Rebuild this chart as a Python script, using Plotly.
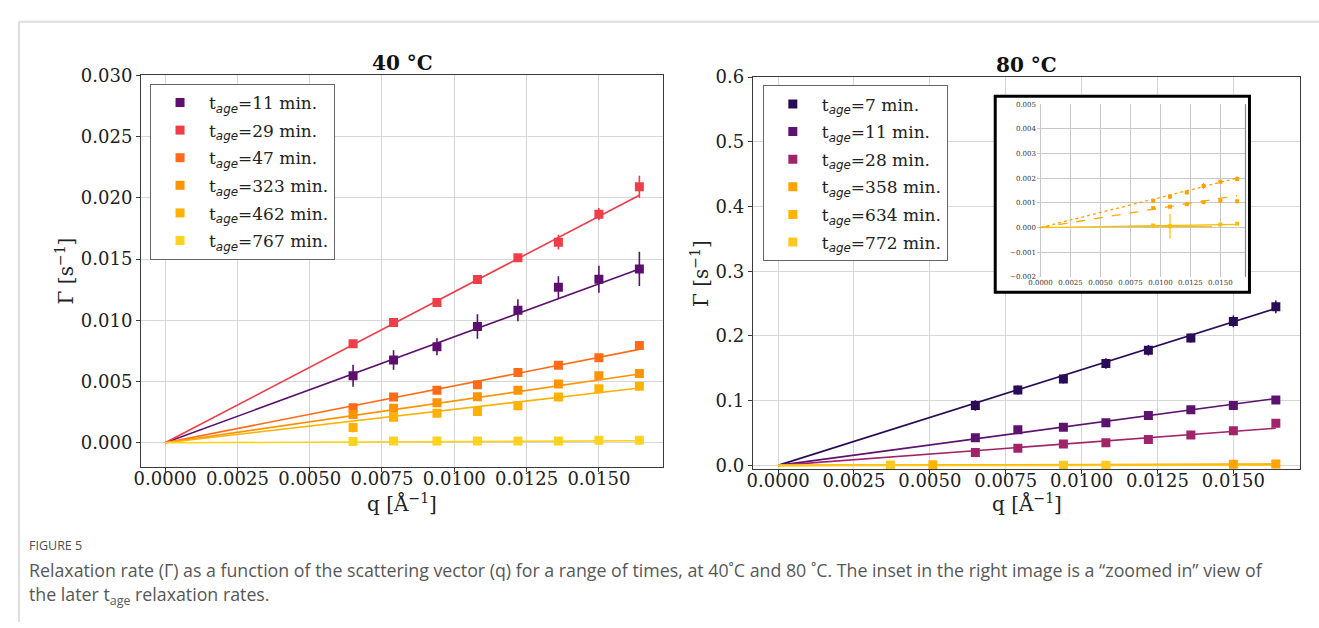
import plotly.graph_objects as go

W, H = 1319, 628
def px(x):
    return x / W
def py(y):
    return 1 - y / H

SERIF = "DejaVu Serif"

# ---------------- data ----------------
q = [0.0065, 0.0079, 0.0094, 0.0108, 0.0122, 0.0136, 0.0150, 0.0164]

# 40 C panel
t40 = [11, 29, 47, 323, 462, 767]
c40 = ["#5c0f6e", "#f03e48", "#ff6b17", "#ff9400", "#ffb100", "#ffd21f"]
g40 = [
    [0.00547, 0.00676, 0.00784, 0.00950, 0.01082, 0.01269, 0.01335, 0.01419],
    [0.00808, 0.00982, 0.01145, 0.01332, 0.01511, 0.01637, 0.01866, 0.02090],
    [0.00287, 0.00374, 0.00429, 0.00474, 0.00574, 0.00632, 0.00695, 0.00795],
    [0.00231, 0.00281, 0.00326, 0.00376, 0.00429, 0.00479, 0.00547, 0.00566],
    [0.00124, 0.00208, 0.00242, 0.00255, 0.00302, 0.00374, 0.00442, 0.00461],
    [0.00010, 0.00015, 0.00015, 0.00015, 0.00015, 0.00015, 0.00020, 0.00020],
]
e40 = [
    [0.0009, 0.0008, 0.0007, 0.0010, 0.0009, 0.0009, 0.0011, 0.0014],
    [0.0002, 0.0002, 0.0002, 0.0002, 0.0002, 0.0006, 0.0005, 0.0009],
    [0.0002, 0.0002, 0.0002, 0.0002, 0.0002, 0.0002, 0.0002, 0.0003],
    [0.0002, 0.0002, 0.0002, 0.0002, 0.0002, 0.0002, 0.0002, 0.0002],
    [0.0004, 0.0002, 0.0002, 0.0003, 0.0003, 0.0003, 0.0003, 0.0003],
    [0.0001, 0.0001, 0.0001, 0.0001, 0.0001, 0.0001, 0.0001, 0.0001],
]
slope40 = [0.865, 1.232, 0.465, 0.342, 0.273, 0.010]

# 80 C panel
t80 = [7, 11, 28, 358, 634, 772]
c80 = ["#2a0b57", "#5c126e", "#a1246b", "#ffa400", "#ffb500", "#ffc81f"]
q80 = [q, q, q, [0.0150, 0.0164], [0.0051], [0.0037, 0.0094, 0.0108]]
g80 = [
    [0.0925, 0.1165, 0.1335, 0.1575, 0.1780, 0.1970, 0.2225, 0.2450],
    [0.0425, 0.0550, 0.0590, 0.0660, 0.0770, 0.0860, 0.0925, 0.1010],
    [0.0200, 0.0265, 0.0330, 0.0350, 0.0400, 0.0470, 0.0535, 0.0650],
    [0.0019, 0.0020],
    [0.0010],
    [0.0005, 0.0001, 0.0001],
]
e80 = [
    [0.008, 0.007, 0.007, 0.008, 0.008, 0.007, 0.009, 0.010],
    [0.003, 0.003, 0.003, 0.003, 0.003, 0.003, 0.003, 0.003],
    [0.003, 0.003, 0.003, 0.003, 0.003, 0.003, 0.003, 0.003],
    [0.0001, 0.0001],
    [0.0001],
    [0.0001, 0.0001, 0.0005],
]
slope80 = [14.8, 6.3, 3.5, 0.122, 0.079, 0.008]

# inset (late ageing times at 80 C)
qi = [0.0094, 0.0108, 0.0122, 0.0136, 0.0150, 0.0164]
qi772 = [0.0094, 0.0108, 0.0150, 0.0164]
gi358 = [0.00109, 0.00126, 0.00142, 0.00168, 0.00185, 0.00197]
ei358 = [0.00004, 0.00010, 0.00005, 0.00012, 0.00005, 0.00010]
gi634 = [0.00079, 0.00084, 0.00094, 0.00102, 0.00109, 0.00106]
ei634 = [0.00003, 0.00005, 0.00004, 0.00004, 0.00004, 0.00008]
gi772 = [0.00008, 0.00005, 0.00012, 0.00015]
ei772 = [0.00003, 0.00050, 0.00003, 0.00003]
exi772 = [0.0, 0.0035, 0.0, 0.0]
slope_in = [0.122, 0.079, 0.008]
dash_in = ["dot", "dash", "solid"]
col_in = ["#ffa000", "#ffa600", "#ffbf00"]

q_end = 0.0164
xticks = [0.0, 0.0025, 0.005, 0.0075, 0.01, 0.0125, 0.015]

def lab(t):
    return ("t<sub><span style='font-family:DejaVu Sans;font-style:italic'>age</span></sub>"
            f"={t} min.")

fig = go.Figure()

# ---- 40 C ----
for i in range(len(t40)):
    fig.add_trace(go.Scatter(x=[0, q_end], y=[0, slope40[i] * q_end], mode="lines",
                             line=dict(color=c40[i], width=1.6), showlegend=False,
                             hoverinfo="skip", xaxis="x", yaxis="y"))
for i in range(len(t40)):
    fig.add_trace(go.Scatter(x=q, y=g40[i], mode="markers", name=lab(t40[i]),
                             legendgroup=f"a{i}",
                             marker=dict(symbol="square", size=9, color=c40[i]),
                             error_y=dict(type="data", array=e40[i], color=c40[i],
                                          thickness=1.6, width=0),
                             xaxis="x", yaxis="y", legend="legend"))

# ---- 80 C ----
for i in range(len(t80)):
    fig.add_trace(go.Scatter(x=[0, q_end], y=[0, slope80[i] * q_end], mode="lines",
                             line=dict(color=c80[i], width=1.6), showlegend=False,
                             hoverinfo="skip", xaxis="x2", yaxis="y2"))
for i in range(len(t80)):
    fig.add_trace(go.Scatter(x=q80[i], y=g80[i], mode="markers", name=lab(t80[i]),
                             legendgroup=f"b{i}",
                             marker=dict(symbol="square", size=9, color=c80[i]),
                             error_y=dict(type="data", array=e80[i], color=c80[i],
                                          thickness=1.6, width=0),
                             xaxis="x2", yaxis="y2", legend="legend2"))

# ---- inset cover (white box) ----
fig.add_trace(go.Scatter(x=[0], y=[0], mode="markers", marker=dict(opacity=0),
                         showlegend=False, hoverinfo="skip", xaxis="x3", yaxis="y3"))

# ---- inset ----
gi = [gi358, gi634, gi772]
ei = [ei358, ei634, ei772]
qis = [qi, qi, qi772]
exi = [None, None, exi772]
for k in range(3):
    fig.add_trace(go.Scatter(x=[0, q_end], y=[0, slope_in[k] * q_end], mode="lines",
                             line=dict(color=col_in[k], width=1.3, dash=dash_in[k]),
                             showlegend=False, hoverinfo="skip", xaxis="x4", yaxis="y4"))
    tr = go.Scatter(x=qis[k], y=gi[k], mode="markers",
                    marker=dict(symbol="square", size=4, color=col_in[k]),
                    error_y=dict(type="data", array=ei[k], color=col_in[k],
                                 thickness=1.2, width=0),
                    showlegend=False, xaxis="x4", yaxis="y4")
    if exi[k] is not None:
        tr.error_x = dict(type="data", array=exi[k], color=col_in[k], thickness=1.2, width=0)
    fig.add_trace(tr)

GRID = "#d6d6d6"
SPINE = "#3a3a3a"
tickfont = dict(family=SERIF, size=18, color="#222")

def xax(dom, anchor):
    return dict(domain=dom, anchor=anchor, range=[-0.00083, 0.0172],
                tickvals=xticks, ticktext=[f"{v:.4f}" for v in xticks],
                showgrid=True, gridcolor=GRID, gridwidth=1.2, zeroline=False,
                showline=True, linecolor=SPINE, linewidth=1.2, mirror=True,
                ticks="outside", ticklen=4, tickcolor=SPINE, tickfont=tickfont,
                ticklabelstandoff=-9)

def yax(dom, anchor, rng, dtick, fmt):
    return dict(domain=dom, anchor=anchor, range=rng, tick0=0, dtick=dtick,
                tickformat=fmt, showgrid=True, gridcolor=GRID, gridwidth=1.2,
                zeroline=False, showline=True, linecolor=SPINE, linewidth=1.2,
                mirror=True, ticks="outside", ticklen=4, tickcolor=SPINE,
                tickfont=tickfont, ticklabelstandoff=0)

legend_common = dict(bgcolor="white", bordercolor="#666", borderwidth=1,
                     font=dict(family=SERIF, size=17, color="#222"),
                     xanchor="left", yanchor="top", itemwidth=48,
                     tracegroupgap=2.5)

inset_font = dict(family=SERIF, size=7, color="#333")

fig.update_layout(
    width=W, height=H, margin=dict(l=0, r=0, t=0, b=0),
    paper_bgcolor="white", plot_bgcolor="white", showlegend=True,
    xaxis=xax([px(133), px(658)], "y"),
    yaxis=yax([py(469), py(66)], "x", [-0.002, 0.030], 0.005, ".3f"),
    xaxis2=xax([px(749), px(1300)], "y2"),
    yaxis2=yax([py(471), py(68)], "x2", [-0.006, 0.6], 0.1, ".1f"),
    xaxis3=dict(domain=[px(993), px(1249)], anchor="y3", range=[0, 1], visible=True,
                showgrid=False, zeroline=False, showline=False, showticklabels=False,
                ticks=""),
    yaxis3=dict(domain=[py(289), py(87.5)], anchor="x3", range=[0, 1], visible=True,
                showgrid=False, zeroline=False, showline=False, showticklabels=False,
                ticks=""),
    xaxis4=dict(domain=[px(1035), px(1245)], anchor="y4", range=[-0.0003, 0.0171],
                tickvals=xticks, ticktext=[f"{v:.4f}" for v in xticks],
                showgrid=True, gridcolor="#c8c8c8", gridwidth=1, zeroline=False,
                showline=False, ticks="", tickfont=inset_font),
    yaxis4=dict(domain=[py(273.3), py(95.7)], anchor="x4", range=[-0.002, 0.005],
                tick0=0, dtick=0.001, tickformat=".3f",
                showgrid=True, gridcolor="#c8c8c8", gridwidth=1, zeroline=False,
                showline=False, ticks="", tickfont=inset_font),
    legend=dict(x=px(142), y=py(75), **legend_common),
    legend2=dict(x=px(759), y=py(76.5), **legend_common),
)

shapes = [
    # card border
    dict(type="line", xref="paper", yref="paper", x0=px(10), x1=1, y0=py(11), y1=py(11),
         line=dict(color="#dcdcdc", width=2)),
    dict(type="line", xref="paper", yref="paper", x0=px(10), x1=px(10), y0=py(11), y1=0,
         line=dict(color="#dcdcdc", width=2)),
    # inset frame
    dict(type="rect", xref="paper", yref="paper", x0=px(993), x1=px(1249),
         y0=py(289), y1=py(87.5), line=dict(color="black", width=3), layer="above"),
    # inset right edge line
    dict(type="line", xref="paper", yref="paper", x0=px(1245), x1=px(1245),
         y0=py(273.3), y1=py(95.7), line=dict(color="#888", width=1.2), layer="above"),
]
fig.update_layout(shapes=shapes)

ann = []
title_font = dict(family=SERIF, size=20, color="#111")
ann.append(dict(text="<b>40 °C</b>", x=px(396), y=py(53), xref="paper", yref="paper",
                showarrow=False, font=title_font, xanchor="center", yanchor="middle"))
ann.append(dict(text="<b>80 °C</b>", x=px(1024), y=py(55), xref="paper", yref="paper",
                showarrow=False, font=title_font, xanchor="center", yanchor="middle"))
axis_title_font = dict(family=SERIF, size=20, color="#222")
for xc in [396, 1025]:
    ann.append(dict(text="q [Å<sup>−1</sup>]", x=px(xc), y=py(506), xref="paper",
                    yref="paper", showarrow=False, font=axis_title_font,
                    xanchor="center", yanchor="middle"))
for xc, yc in [(56, 267), (695, 270)]:
    ann.append(dict(text="Γ [s<sup>−1</sup>]", x=px(xc), y=py(yc), xref="paper",
                    yref="paper", showarrow=False, font=axis_title_font, textangle=-90,
                    xanchor="center", yanchor="middle"))
cap_font = dict(family="Open Sans", size=17.8, color="#575757")
ann.append(dict(text="FIGURE 5", x=px(18), y=py(549), xref="paper", yref="paper",
                showarrow=False, font=dict(family="Open Sans", size=12.5, color="#505050"),
                xanchor="left", yanchor="middle"))
ann.append(dict(text="Relaxation rate (Γ) as a function of the scattering vector (q) for a range "
                     "of times, at 40˚C and 80 ˚C. The inset in the right image is a “zoomed in” view of",
                x=px(18), y=py(575), xref="paper", yref="paper", showarrow=False,
                font=cap_font, xanchor="left", yanchor="middle"))
ann.append(dict(text="the later t<sub>age</sub> relaxation rates.", x=px(18), y=py(601),
                xref="paper", yref="paper", showarrow=False, font=cap_font,
                xanchor="left", yanchor="middle"))
fig.update_layout(annotations=ann)

fig.write_html("out.html", config={"displayModeBar": False},
               post_script="document.body.style.margin='0';")
